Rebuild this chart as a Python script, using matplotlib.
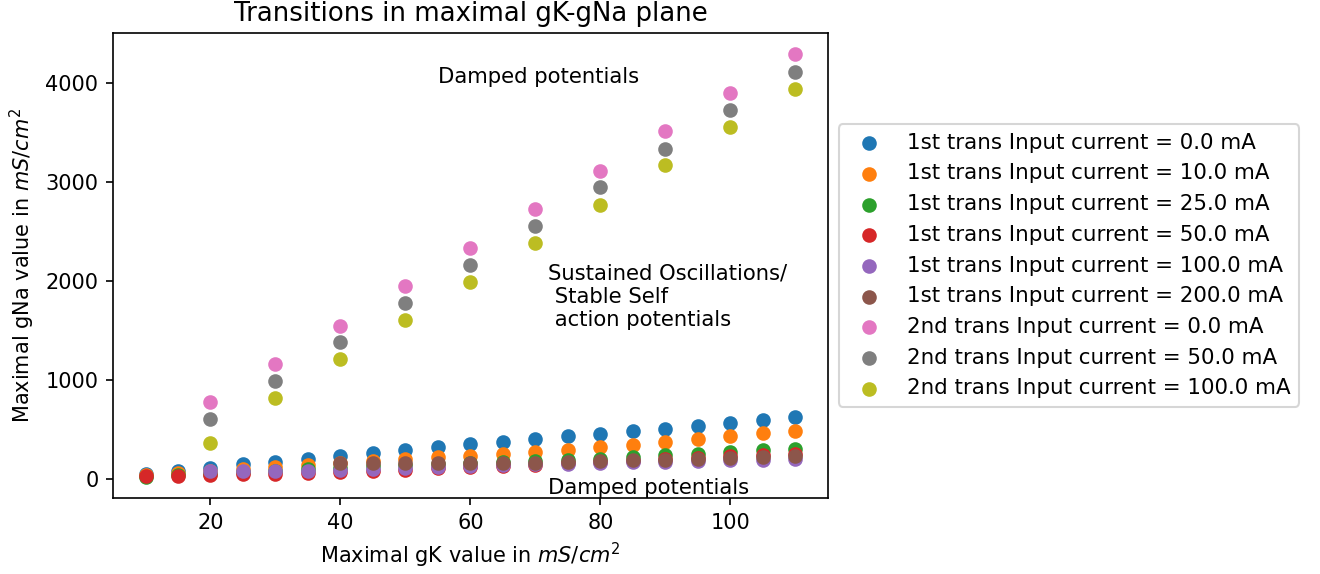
import numpy as np
import matplotlib
matplotlib.use("Agg")
import matplotlib.pyplot as plt

# Maximal gK values (mS/cm^2)
gk_first = [10, 15, 20, 25, 30, 35, 40, 45, 50, 55, 60,
            65, 70, 75, 80, 85, 90, 95, 100, 105, 110]
gk_second = [20, 30, 40, 50, 60, 70, 80, 90, 100, 110]

# First transition: gNa threshold for each input current
first_0 = [55, 88, 118, 150, 178, 205, 236, 268, 298, 326, 354,
           382, 407, 435, 459, 485, 513, 538, 568, 597, 625]
first_10 = [40, 60, 85, 105, 120, 140, 162, 185, 208, 225, 240,
            258, 278, 300, 322, 346, 378, 410, 437, 463, 490]
first_25 = [25, 40, 55, 70, 85, 100, 115, 130, 145, 155, 165,
            175, 185, 197, 208, 224, 241, 258, 276, 293, 308]
first_50 = [30, 35, 45, 55, 58, 68, 78, 88, 98, 110, 122,
            135, 148, 162, 176, 190, 204, 218, 232, 246, 258]
first_100 = [np.nan, np.nan, 80, 82, 85, 85, 92, 102, 113, 125, 135,
             143, 150, 158, 165, 173, 180, 187, 193, 200, 207]
first_200 = [np.nan, np.nan, np.nan, np.nan, np.nan, np.nan, 165, 160, 160, 160, 165,
             165, 166, 175, 185, 192, 199, 209, 220, 227, 238]

# Second transition
second_0 = [777, 1165, 1552, 1951, 2336, 2727, 3116, 3517, 3906, 4294]
second_50 = [605, 992, 1390, 1779, 2167, 2559, 2950, 3339, 3727, 4111]
second_100 = [368, 817, 1218, 1607, 1995, 2387, 2775, 3170, 3557, 3946]

first_currents = [0.0, 10.0, 25.0, 50.0, 100.0, 200.0]
second_currents = [0.0, 50.0, 100.0]

first_sets = [first_0, first_10, first_25, first_50, first_100, first_200]
second_sets = [second_0, second_50, second_100]

fig = plt.figure(figsize=(8.8, 3.8267), dpi=150)
ax = fig.add_axes([113 / 1320, 1 - 498 / 574, 715 / 1320, 465 / 574])

for cur, vals in zip(first_currents, first_sets):
    ax.scatter(gk_first, vals, label=f"1st trans Input current = {cur} mA")
for cur, vals in zip(second_currents, second_sets):
    ax.scatter(gk_second, vals, label=f"2nd trans Input current = {cur} mA")

ax.text(55, 4000, "Damped potentials", fontsize=10.15)
ax.text(72, 1545, "Sustained Oscillations/\n Stable Self\n action potentials",
        fontsize=10.15)
ax.text(72, -150, "Damped potentials", fontsize=10.15)

ax.set_title("Transitions in maximal gK-gNa plane", fontsize=12.5)
ax.set_xlabel("Maximal gK value in $mS/cm^2$")
ax.set_ylabel("Maximal gNa value in $mS/cm^2$")
ax.legend(loc="center left", bbox_to_anchor=(1, 0.5), prop={"size": 10.25})

fig.savefig("out.png", dpi=150)
